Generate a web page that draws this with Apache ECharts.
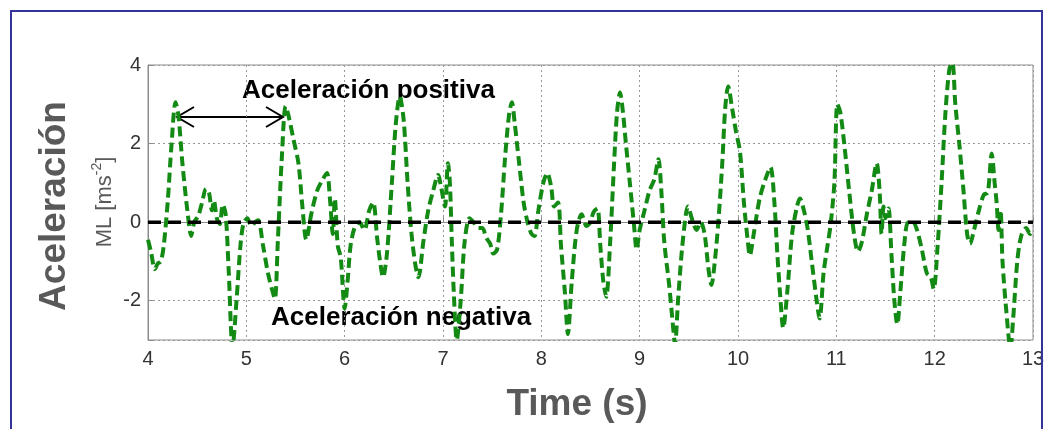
<!DOCTYPE html>
<html>
<head>
<meta charset="utf-8">
<script src="https://cdn.jsdelivr.net/npm/echarts@6/dist/echarts.min.js"></script>
<style>html,body{margin:0;padding:0;background:#fff;}#c{width:1053px;height:429px;}</style>
</head>
<body>
<div id="c"></div>
<script>
// time (s)
const times = [4.00,4.03,4.07,4.10,4.13,4.16,4.20,4.24,4.28,4.31,4.35,4.40,4.44,4.47,4.51,4.55,4.59,4.62,4.65,4.67,4.70,4.73,4.76,4.79,4.82,4.86,4.90,4.94,4.97,5.01,5.05,5.09,5.12,5.17,5.22,5.26,5.29,5.32,5.36,5.40,5.43,5.48,5.53,5.57,5.61,5.66,5.72,5.78,5.82,5.85,5.88,5.90,5.93,5.96,6.00,6.03,6.06,6.10,6.15,6.20,6.25,6.29,6.33,6.36,6.39,6.43,6.48,6.52,6.56,6.60,6.64,6.68,6.72,6.75,6.80,6.85,6.90,6.95,6.98,7.02,7.05,7.07,7.09,7.11,7.14,7.18,7.22,7.27,7.31,7.36,7.40,7.44,7.48,7.51,7.55,7.59,7.63,7.67,7.70,7.73,7.77,7.82,7.86,7.90,7.93,7.97,8.02,8.06,8.10,8.13,8.17,8.20,8.24,8.27,8.31,8.36,8.41,8.46,8.50,8.53,8.57,8.60,8.63,8.66,8.70,8.74,8.77,8.80,8.83,8.86,8.90,8.94,8.97,9.00,9.05,9.10,9.15,9.19,9.22,9.25,9.30,9.33,9.36,9.39,9.43,9.47,9.49,9.53,9.58,9.62,9.66,9.70,9.73,9.76,9.80,9.84,9.87,9.90,9.94,9.98,10.02,10.06,10.10,10.12,10.16,10.22,10.28,10.33,10.37,10.40,10.43,10.46,10.50,10.55,10.60,10.63,10.67,10.71,10.75,10.80,10.83,10.87,10.91,10.94,10.98,11.01,11.04,11.08,11.13,11.18,11.22,11.26,11.31,11.36,11.41,11.44,11.46,11.48,11.50,11.53,11.56,11.59,11.62,11.65,11.69,11.73,11.78,11.82,11.87,11.92,11.96,11.99,12.03,12.07,12.11,12.15,12.18,12.21,12.25,12.29,12.33,12.36,12.40,12.45,12.50,12.54,12.58,12.61,12.63,12.65,12.67,12.69,12.73,12.77,12.80,12.84,12.88,12.93,12.97,13.00];
// ML acceleration (m/s^2)
const accelML = [-0.45,-0.75,-1.2,-1.05,-1.0,-0.6,0.5,2.0,3.05,2.7,1.5,0.3,-0.35,0.0,0.15,0.5,0.85,0.75,0.3,0.55,0.1,-0.05,0.45,0.2,-1.2,-3.2,-2.0,-0.6,-0.05,0.1,-0.1,0.0,0.05,-0.6,-1.3,-1.7,-1.95,-0.5,1.6,2.95,2.7,2.1,1.5,0.4,-0.45,0.2,0.8,1.1,1.25,0.6,-0.3,0.6,-0.6,-0.9,-2.2,-1.5,-0.6,-0.15,0.0,-0.2,0.3,0.5,-0.4,-1.0,-1.4,-0.8,1.0,2.5,3.2,2.6,1.0,-0.3,-1.1,-1.4,-0.5,0.3,0.8,1.2,0.9,0.4,1.5,1.0,-0.5,-1.8,-3.0,-2.0,-0.5,0.1,0.0,-0.15,-0.15,-0.4,-0.55,-0.8,-0.7,0.2,1.6,2.7,3.05,2.5,1.6,0.5,0.0,-0.3,-0.35,0.3,1.0,1.25,0.9,0.4,0.5,-0.6,-1.8,-2.85,-1.5,-0.2,0.2,-0.1,0.0,0.25,0.35,-0.6,-1.5,-1.9,-0.5,1.5,2.8,3.3,2.8,2.0,1.0,0.0,-0.7,-0.2,0.3,0.8,1.1,1.6,0.8,-0.5,-1.6,-2.4,-3.1,-2.0,-0.7,0.2,0.4,0.1,-0.2,0.0,-0.3,-1.2,-1.6,-1.1,0.0,1.5,2.9,3.45,2.9,2.3,1.8,0.5,-0.5,-0.85,-0.3,0.6,1.1,1.4,0.5,-0.8,-1.9,-2.7,-1.8,-0.3,0.4,0.6,0.3,-0.2,-1.0,-2.0,-2.45,-1.3,-0.6,-0.1,1.0,3.0,2.8,2.0,0.8,-0.3,-0.75,-0.5,0.2,0.8,1.5,0.8,-0.3,0.4,0.1,0.35,-0.8,-2.0,-2.6,-1.8,-0.6,0.0,0.0,-0.2,-0.7,-1.3,-1.4,-1.7,-0.6,1.0,2.8,3.9,4.05,3.0,2.0,0.9,-0.3,-0.55,-0.2,0.3,0.7,0.75,1.75,1.0,0.5,-0.2,0.3,-1.0,-2.3,-3.2,-2.4,-1.0,-0.35,-0.15,-0.3,-0.2];
const zeroLineX = [4, 13];
const zeroLineY = [0, 0];
const xTicks = [4,5,6,7,8,9,10,11,12,13];
const yTicks = [-2,0,2,4];

const font = 'Liberation Sans, Arial, sans-serif';
const chart = echarts.init(document.getElementById('c'));
const greenData = times.map((t,i)=>[t, accelML[i]]);
const zeroData = zeroLineX.map((x,i)=>[x, zeroLineY[i]]);

chart.setOption({
  animation: false,
  backgroundColor: '#fff',
  grid: { left: 148, right: 20, top: 65, bottom: 89, show: true, borderColor: '#8c8c8c', borderWidth: 1, backgroundColor: 'transparent' },
  xAxis: {
    type: 'value', min: 4, max: 13, interval: 1,
    axisLine: { show: true, lineStyle: { color: '#8c8c8c', width: 1 } },
    axisTick: { show: true, inside: true, length: 5, lineStyle: { color: '#8c8c8c' } },
    axisLabel: { color: '#333', fontSize: 20, fontFamily: font, margin: 9,
      formatter: v => xTicks.includes(v) ? String(v) : '' },
    splitLine: { show: true, lineStyle: { color: '#999', type: [2, 3], width: 1 } }
  },
  yAxis: {
    type: 'value', min: -3, max: 4, splitNumber: 3,
    axisLine: { show: true, lineStyle: { color: '#8c8c8c', width: 1 } },
    axisTick: { show: true, inside: true, length: 5, lineStyle: { color: '#8c8c8c' } },
    axisLabel: { color: '#333', fontSize: 20, fontFamily: font, margin: 7,
      formatter: v => yTicks.includes(v) ? String(v) : '' },
    splitLine: { show: true, lineStyle: { color: '#999', type: [2, 3], width: 1 } }
  },
  series: [
    { type: 'line', data: greenData, showSymbol: false, smooth: 0.3, clip: true, z: 2,
      lineStyle: { color: '#138a13', width: 4, type: [10, 5] } },
    { type: 'line', data: zeroData, showSymbol: false, clip: true, z: 3,
      lineStyle: { color: '#000', width: 3.5, type: [13, 7] } }
  ],
  graphic: [
    { type: 'rect', silent: true, shape: { x: 11, y: 11, width: 1031, height: 440 },
      style: { fill: null, stroke: '#33339a', lineWidth: 2 }, z: 100 },
    { type: 'text', x: 55, y: 206, rotation: Math.PI/2, silent: true,
      style: { text: 'Aceleración', font: 'bold 37px ' + font, fill: '#595959', align: 'center', verticalAlign: 'middle' } },
    { type: 'text', x: 103, y: 202, rotation: Math.PI/2, silent: true,
      style: { text: '{a|ML [ms}{s|-2}{a|]}', align: 'center', verticalAlign: 'middle',
        rich: { a: { font: '22px ' + font, fill: '#595959', verticalAlign: 'bottom' },
                s: { font: '14px ' + font, fill: '#595959', verticalAlign: 'top', padding: [0,0,11,0] } } } },
    { type: 'text', x: 577, y: 405, silent: true,
      style: { text: 'Time (s)', font: 'bold 37px ' + font, fill: '#595959', align: 'center', verticalAlign: 'middle' } },
    { type: 'text', x: 242, y: 91, silent: true,
      style: { text: 'Aceleración positiva', font: 'bold 26px ' + font, fill: '#000', align: 'left', verticalAlign: 'middle' } },
    { type: 'text', x: 271, y: 318, silent: true,
      style: { text: 'Aceleración negativa', font: 'bold 26px ' + font, fill: '#000', align: 'left', verticalAlign: 'middle' } },
    { type: 'group', silent: true, children: [
      { type: 'line', shape: { x1: 177, y1: 117, x2: 283, y2: 117 }, style: { stroke: '#000', lineWidth: 2 } },
      { type: 'polyline', shape: { points: [[194,107],[177,117],[194,127]] }, style: { stroke: '#000', lineWidth: 2, fill: null } },
      { type: 'polyline', shape: { points: [[266,107],[283,117],[266,127]] }, style: { stroke: '#000', lineWidth: 2, fill: null } }
    ] }
  ]
});
</script>
</body>
</html>
